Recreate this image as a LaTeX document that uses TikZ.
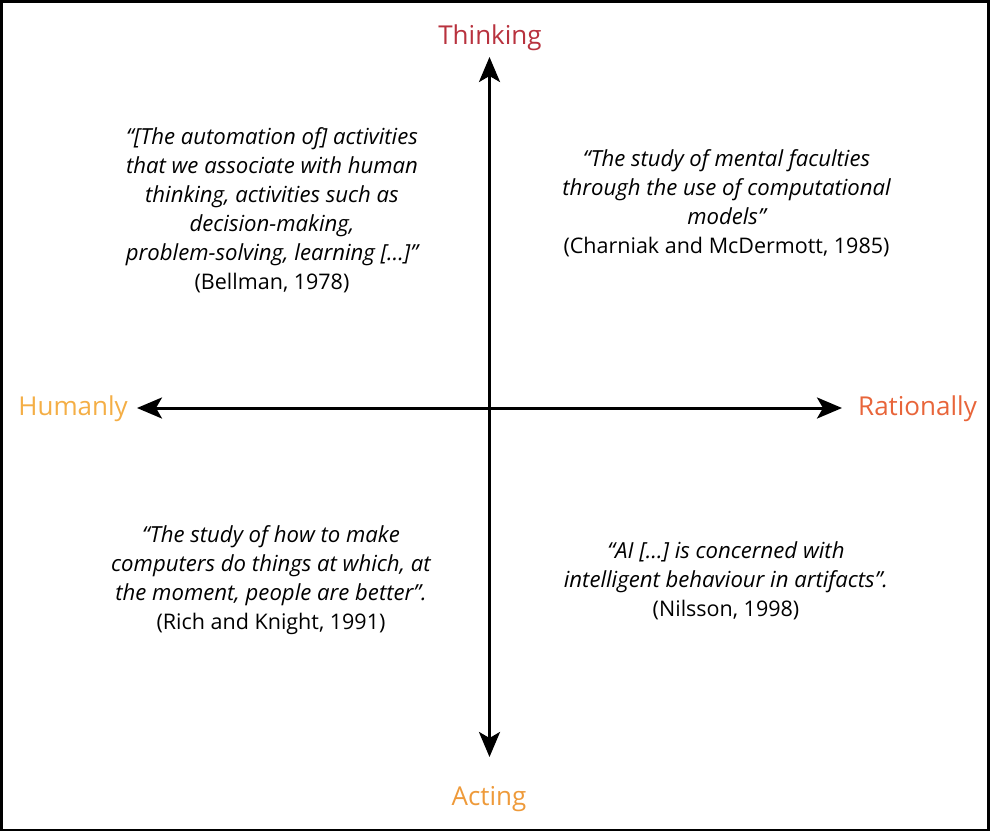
\documentclass[tikz,border=0pt]{standalone}
\usepackage{fontspec}
\setmainfont{Open Sans}[ItalicFeatures={Scale=1.03}]
\usetikzlibrary{arrows.meta}
\definecolor{thinkc}{HTML}{B8323E}
\definecolor{humanc}{HTML}{F4AE45}
\definecolor{ratc}{HTML}{E8653A}
\definecolor{actc}{HTML}{EE9A3A}
\tikzset{
  axis/.style={line width=3pt,{Stealth[length=25pt,width=21pt,inset=6pt]}-{Stealth[length=25pt,width=21pt,inset=6pt]}},
  axlabel/.style={font=\fontsize{26}{30}\selectfont,inner sep=0pt},
  quote/.style={align=center,inner sep=0pt,font=\fontsize{21.5}{29}\selectfont},
}
\begin{document}
\begin{tikzpicture}[x=1pt,y=-1pt]
\useasboundingbox (0,0) rectangle (991,833);
\draw[line width=2.5pt] (1.25,1.25) rectangle (988.5,830);
\coordinate (top) at (489.5,57);
\coordinate (bot) at (489.5,757);
\coordinate (lft) at (137,408);
\coordinate (rgt) at (842,408);
\draw[axis] (bot) -- (top);
\draw[axis] (lft) -- (rgt);
\node[axlabel,text=thinkc] (thinking) at (490,38) {Thinking};
\node[axlabel,text=humanc,anchor=east] (humanly) at (128,409) {Humanly};
\node[axlabel,text=ratc,anchor=west] (rationally) at (858,409) {Rationally};
\node[axlabel,text=actc] (acting) at (489,799) {Acting};
\node[quote] (bellman) at (272,210.5) {\itshape “[The automation of] activities\\\itshape that we associate with human\\\itshape thinking, activities such as\\\itshape decision-making,\\\itshape problem-solving, learning […]”\\(Bellman, 1978)};
\node[quote] (charniak) at (726.5,203.5) {\itshape “The study of mental faculties\\\itshape through the use of computational\\\itshape models”\\(Charniak and McDermott, 1985)};
\node[quote] (rich) at (271,580.5) {\itshape “The study of how to make\\\itshape computers do things at which, at\\\itshape the moment, people are better”.\\(Rich and Knight, 1991)};
\node[quote] (nilsson) at (726,580.5) {\itshape “AI […] is concerned with\\\itshape intelligent behaviour in artifacts”.\\(Nilsson, 1998)};
\end{tikzpicture}
\end{document}
